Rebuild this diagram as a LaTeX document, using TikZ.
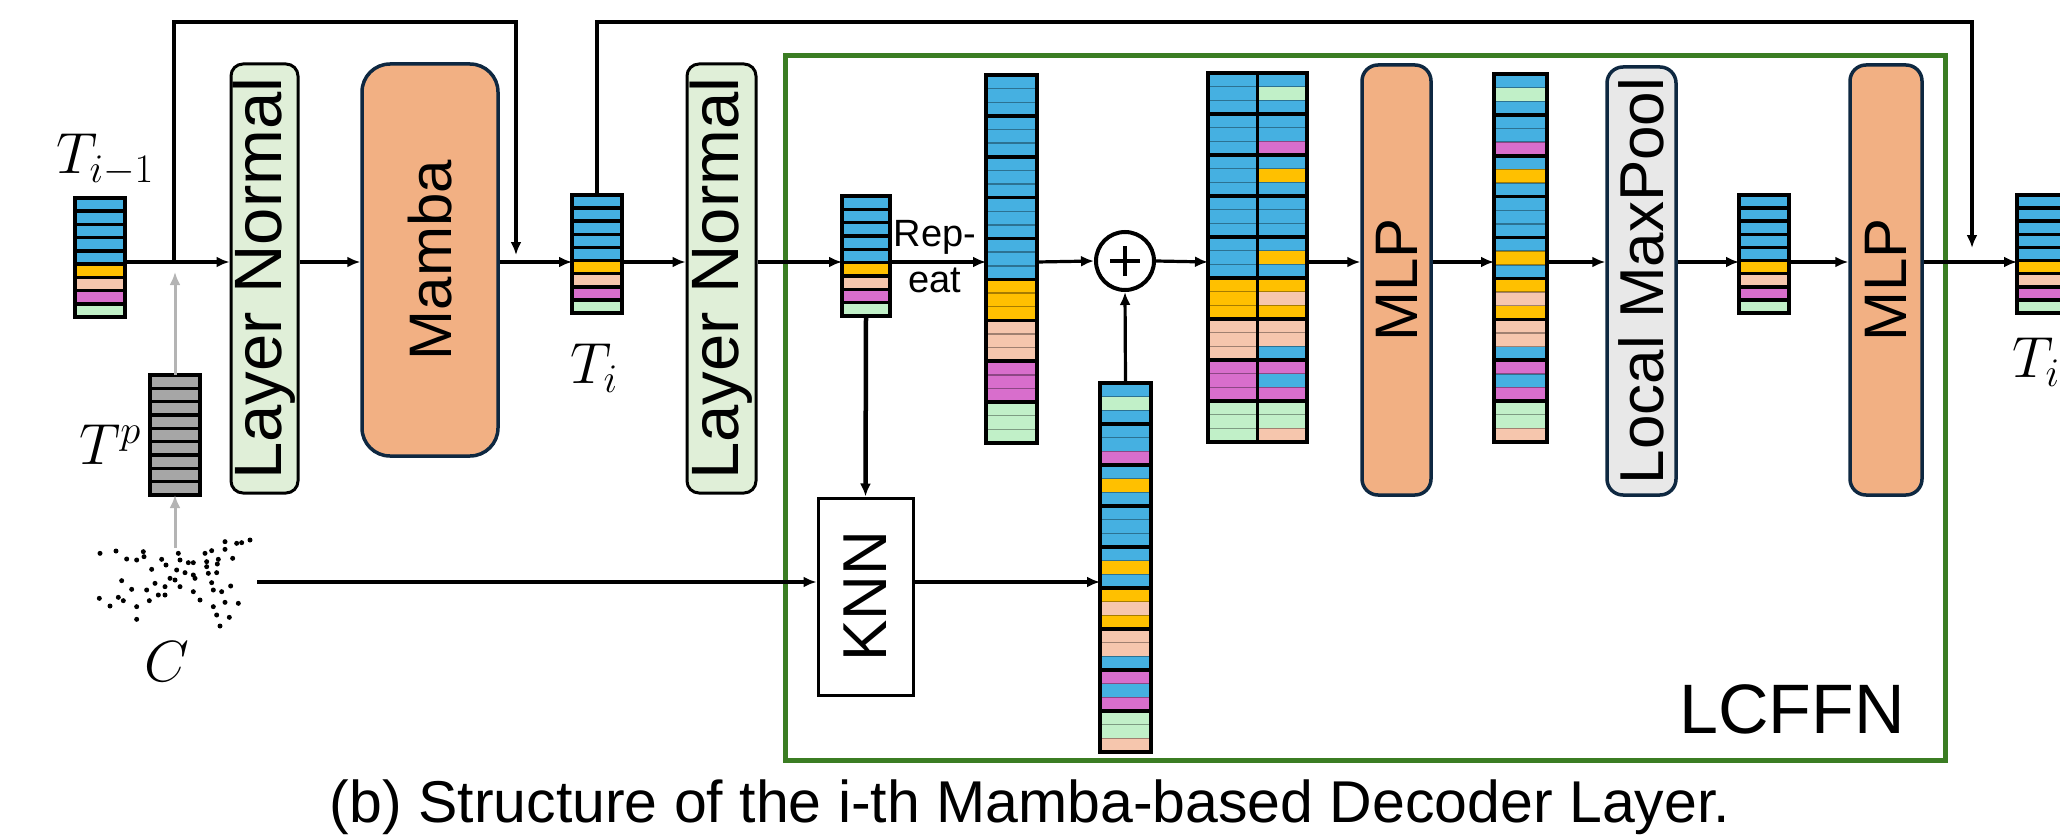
\documentclass[tikz,border=0pt]{standalone}
\usepackage{fix-cm}
\usepackage{fontspec}
\setmainfont{Liberation Sans}
\usetikzlibrary{arrows.meta}
\definecolor{cB}{HTML}{45B0E1}
\definecolor{cY}{HTML}{FFC000}
\definecolor{cP}{HTML}{F6C6AD}
\definecolor{cM}{HTML}{D86ECC}
\definecolor{cG}{HTML}{C1F0C8}
\definecolor{cT}{HTML}{A6A6A6}
\definecolor{lnfill}{HTML}{E0EFD8}
\definecolor{orfill}{HTML}{F2B083}
\definecolor{bnavy}{HTML}{0E2841}
\definecolor{mpfill}{HTML}{E8E8E8}
\definecolor{lgreen}{HTML}{3B7D23}
\definecolor{garrow}{HTML}{B4B4B4}
\tikzset{
  vecframe/.style={draw=black, line width=3.5pt, inner sep=0pt, outer sep=0pt},
  lnbox/.style={draw=black, line width=3pt, fill=lnfill, rounded corners=12pt, inner sep=0pt, font=\fontsize{67}{67}\selectfont},
  orbox/.style={draw=bnavy, line width=3.5pt, fill=orfill, rounded corners=16pt, inner sep=0pt, font=\fontsize{60}{60}\selectfont},
  mpbox/.style={draw=bnavy, line width=3.5pt, fill=mpfill, rounded corners=16pt, inner sep=0pt, font=\fontsize{62}{62}\selectfont},
  knnbox/.style={draw=black, line width=3pt, fill=white, inner sep=0pt, font=\fontsize{62}{62}\selectfont},
  conn/.style={line width=3.2pt, -{Latex[length=13pt,width=11pt]}},
  gconn/.style={draw=garrow, line width=3pt, -{Latex[length=13pt,width=11pt]}},
  mathlbl/.style={font=\fontsize{58}{58}\selectfont, inner sep=0pt},
}
% #1 name, #2 x, #3 ytop, #4 w, #5 h, #6 N, #7 group, #8 colour list macro
\newcommand\cellvec[8]{%
  \pgfmathsetmacro\cellh{#5/#6}%
  \foreach \cc [count=\i from 0] in #8{
    \fill[\cc] (#2,{#3+\i*\cellh}) rectangle ({#2+#4},{#3+(\i+1)*\cellh});
  }
  \pgfmathtruncatemacro\lastsep{#6-1}%
  \foreach \k in {1,...,\lastsep}{
    \pgfmathtruncatemacro\rr{mod(\k,#7)}
    \ifnum\rr=0
      \draw[line width=3.5pt] (#2,{#3+\k*\cellh}) -- ++(#4,0);
    \else
      \draw[line width=1.4pt, black, opacity=0.35] (#2,{#3+\k*\cellh}) -- ++(#4,0);
    \fi
  }
  \node[vecframe, minimum width=#4pt, minimum height=#5pt, anchor=north west] (#1) at (#2,#3) {};
}
\newcommand\smallcols{cB,cB,cB,cB,cB,cY,cP,cM,cG}
\newcommand\graycols{cT,cT,cT,cT,cT,cT,cT,cT,cT}
\newcommand\repcols{cB,cB,cB,cB,cB,cB,cB,cB,cB,cB,cB,cB,cB,cB,cB,cY,cY,cY,cP,cP,cP,cM,cM,cM,cG,cG,cG}
\newcommand\nbcols{cB,cG,cB,cB,cB,cM,cB,cY,cB,cB,cB,cB,cB,cY,cB,cY,cP,cY,cP,cP,cB,cM,cB,cM,cG,cG,cP}
\begin{document}
\begin{tikzpicture}[x=1pt,y=-1pt]
\useasboundingbox (0,0) rectangle (2060,840);
\coordinate (m) at (0,262);
\coordinate (top) at (0,22);

% LCFFN frame
\node[draw=lgreen, line width=5pt, minimum width=1160pt, minimum height=705pt, anchor=north west, inner sep=0pt] (lcf) at (783,53) {};
\node[anchor=base east, font=\fontsize{70}{70}\selectfont, inner sep=0pt] (lcffn) at (1905,733) {LCFFN};

% token vectors
\cellvec{tim1}{75}{198}{50}{119}{9}{1}{\smallcols}
\cellvec{tp}{150}{375}{50}{120}{9}{1}{\graycols}
\cellvec{ti}{572}{195}{50}{118}{9}{1}{\smallcols}
\cellvec{v1}{842}{196}{48}{120}{9}{1}{\smallcols}
\cellvec{rep}{986}{75}{51}{368}{27}{3}{\repcols}
\cellvec{knnv}{1100}{383}{51}{369}{27}{3}{\nbcols}
\cellvec{catl}{1208}{73}{49.5}{369}{27}{3}{\repcols}
\cellvec{catr}{1257.5}{73}{49.5}{369}{27}{3}{\nbcols}
\cellvec{v2}{1494}{74}{53}{368}{27}{3}{\nbcols}
\cellvec{v3}{1739}{195}{50}{118}{9}{1}{\smallcols}
\cellvec{out}{2017}{195}{50}{118}{9}{1}{\smallcols}

% labels
\node[mathlbl] (lblim1) at (105,160) {$T_{i-1}$};
\node[mathlbl] (lbltp) at (110,445) {$T^p$};
\node[mathlbl] (lblc) at (167,662) {$C$};
\node[mathlbl] (lblti) at (594,368) {$T_i$};
\node[mathlbl] (lblout) at (2036,362) {$T_i$};

% boxes
\node[lnbox, minimum width=67pt, minimum height=429pt] (ln1) at (264.5,278.5) {\rotatebox{90}{Layer Normal}};
\node[orbox, rounded corners=28pt, minimum width=136pt, minimum height=392pt] (mamba) at (430,260) {\rotatebox{90}{Mamba}};
\node[lnbox, minimum width=69pt, minimum height=429pt] (ln2) at (721.5,278.5) {\rotatebox{90}{Layer Normal}};
\node[orbox, minimum width=69pt, minimum height=430pt] (mlp1) at (1396.5,280) {\rotatebox{90}{MLP}};
\node[mpbox, minimum width=69pt, minimum height=428pt] (mp) at (1641.5,281) {\rotatebox{90}{Local MaxPool}};
\node[orbox, minimum width=72pt, minimum height=430pt] (mlp2) at (1886,280) {\rotatebox{90}{MLP}};
\node[knnbox, minimum width=95pt, minimum height=197pt] (knn) at (865.5,596.5) {\rotatebox{90}{KNN}};

% plus
\node[circle, draw, line width=4pt, fill=white, minimum size=58pt, inner sep=0pt] (plus) at (1125,261) {};
\draw[line width=4.5pt] ([xshift=-15pt]plus.center) -- ([xshift=15pt]plus.center);
\draw[line width=4.5pt] ([yshift=-15pt]plus.center) -- ([yshift=15pt]plus.center);

% repeat text
\node[font=\fontsize{38}{46}\selectfont, align=center, inner sep=0pt] (reptxt) at (935,257) {Rep-\\eat};

% point cloud
\coordinate (pc) at (175,548);
\coordinate (pcr) at (257,582);
\begin{scope}[shift={(60,360)}, scale=1/3]
\foreach \p in {(120,580),(168,573),(200,597),(230,600),(250,575),(252,590),(275,628),(305,598),(318,615),(355,580),(360,600),(385,608),(400,608),(435,580),(455,572),(495,545),(530,550),(545,548),(570,540),(475,598),(472,612),(495,568),(518,595),(440,620),(470,638),(445,640),(350,630),(375,638),(400,645),(405,655),(330,655),(345,660),(360,680),(185,662),(215,688),(260,690),(285,670),(315,680),(295,705),(315,705),(268,722),(230,740),(230,778),(175,712),(190,722),(150,738),(118,715),(400,695),(420,720),(455,668),(460,690),(485,695),(512,678),(460,740),(495,727),(535,730),(470,765),(508,772),(480,798),(440,605)}
  \fill \p circle (7.5);
\end{scope}

% connectors
\coordinate (s1) at (174,262);
\coordinate (j1) at (516,255);
\coordinate (j2) at (1972,248);
\coordinate (g1) at (175,272);
\draw[conn] (tim1.east |- m) -- (ln1.west |- m);
\draw[conn] (ln1.east |- m) -- (mamba.west |- m);
\draw[conn] (mamba.east |- m) -- (ti.west |- m);
\draw[conn] (ti.east |- m) -- (ln2.west |- m);
\draw[conn] (ln2.east |- m) -- (v1.west |- m);
\draw[conn] (v1.east |- m) -- (rep.west |- m);
\draw[conn] (rep.east |- m) -- (plus.west);
\draw[conn] (plus.east) -- (catl.west |- m);
\draw[conn] (catr.east |- m) -- (mlp1.west |- m);
\draw[conn] (mlp1.east |- m) -- (v2.west |- m);
\draw[conn] (v2.east |- m) -- (mp.west |- m);
\draw[conn] (mp.east |- m) -- (v3.west |- m);
\draw[conn] (v3.east |- m) -- (mlp2.west |- m);
\draw[conn] (mlp2.east |- m) -- (out.west |- m);
\draw[conn] (s1) -- (s1 |- top) -| (j1);
\draw[conn] (ti.north) -- (ti.north |- top) -| (j2);
\draw[gconn] (tp.north) -- (g1);
\draw[gconn] (pc) -- (tp.south);
\draw[conn] (pcr) -- (pcr -| knn.west);
\draw[conn, line width=4.5pt] (v1.south) -- (knn.north);
\draw[conn] (knn.east |- pcr) -- (knnv.west |- pcr);
\draw[conn] (knnv.north) -- (plus.south);

% caption
\node[anchor=base, font=\fontsize{59}{59}\selectfont, inner sep=0pt] (cap) at (1030,822) {(b) Structure of the i-th Mamba-based Decoder Layer.};
\end{tikzpicture}
\end{document}
